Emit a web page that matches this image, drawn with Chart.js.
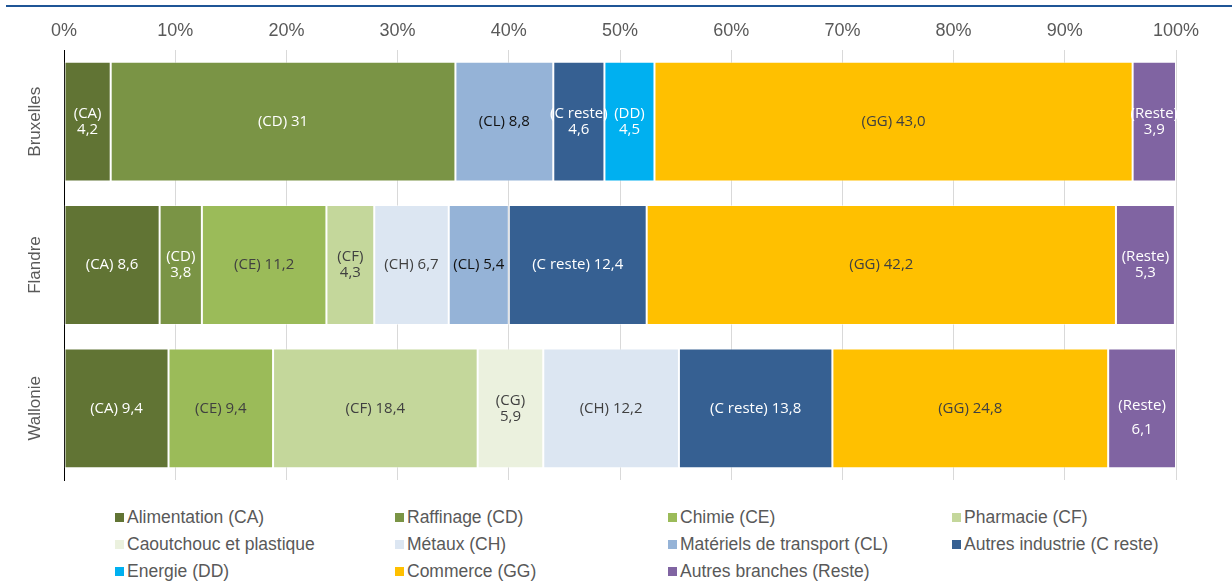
<!DOCTYPE html>
<html><head><meta charset="utf-8">
<script src="https://cdn.jsdelivr.net/npm/chart.js@4.4.1/dist/chart.umd.min.js"></script>
<style>
html,body{margin:0;padding:0;background:#fff;}
#wrap{position:relative;width:1232px;height:586px;overflow:hidden;background:#fff;}
#c{position:absolute;left:0;top:0;width:1232px;height:490px;}
#topline{position:absolute;left:6px;right:0;top:5px;height:2px;background:#1f5596;}
#legend{position:absolute;left:0;top:490px;width:1232px;height:96px;font-family:"Liberation Sans",Arial,sans-serif;font-size:17.5px;color:#595959;}
.item{position:absolute;display:flex;align-items:center;white-space:nowrap;height:20px;}
.box{width:9px;height:9px;margin-right:3px;flex:none;}
</style></head><body>
<div id="wrap"><canvas id="c" width="1232" height="490"></canvas><div id="topline"></div><div id="legend"></div></div>
<script>
// ---- data ----
const regions = ['Bruxelles', 'Flandre', 'Wallonie'];
const seriesNames = ['Alimentation (CA)', 'Raffinage (CD)', 'Chimie (CE)', 'Pharmacie (CF)',
  'Caoutchouc et plastique', 'Métaux (CH)', 'Matériels de transport (CL)', 'Autres industrie (C reste)',
  'Energie (DD)', 'Commerce (GG)', 'Autres branches (Reste)'];
const seriesCodes = ['CA', 'CD', 'CE', 'CF', 'CG', 'CH', 'CL', 'C reste', 'DD', 'GG', 'Reste'];
const caValues     = [4.2, 8.6, 9.4];
const cdValues     = [31, 3.8, 0];
const ceValues     = [0, 11.2, 9.4];
const cfValues     = [0, 4.3, 18.4];
const cgValues     = [0, 0, 5.9];
const chValues     = [0, 6.7, 12.2];
const clValues     = [8.8, 5.4, 0];
const cResteValues = [4.6, 12.4, 13.8];
const ddValues     = [4.5, 0, 0];
const ggValues     = [43.0, 42.2, 24.8];
const resteValues  = [3.9, 5.3, 6.1];
const tickLabels = ['0%', '10%', '20%', '30%', '40%', '50%', '60%', '70%', '80%', '90%', '100%'];

// ---- styling ----
const seriesColors = ['#617434', '#7a9445', '#9bbb59', '#c4d79b', '#ebf1de', '#dce6f2', '#95b3d7', '#366092', '#00b0f0', '#ffc000', '#8064a2'];
const labelColors  = ['#ffffff', '#ffffff', '#404040', '#404040', '#404040', '#404040', '#111111', '#ffffff', '#ffffff', '#404040', '#ffffff'];
const twoLine = new Set(['Bruxelles|CA', 'Bruxelles|C reste', 'Bruxelles|DD', 'Bruxelles|Reste',
  'Flandre|CD', 'Flandre|CF', 'Flandre|Reste', 'Wallonie|CG', 'Wallonie|Reste']);
const wideGap = new Set(['Wallonie|Reste']);
const textOverride = {'Bruxelles|CD': '31'};

const allValues = [caValues, cdValues, ceValues, cfValues, cgValues, chValues, clValues, cResteValues, ddValues, ggValues, resteValues];

const datasets = allValues.map((vals, i) => ({
  label: seriesNames[i],
  data: vals,
  backgroundColor: seriesColors[i],
  borderColor: 'rgba(255,255,255,0.45)',
  borderWidth: 1,
  borderSkipped: false,
  barPercentage: 0.836,
  categoryPercentage: 1.0
}));

const labelPlugin = {
  id: 'segLabels',
  afterDatasetsDraw(chart) {
    const ctx = chart.ctx;
    ctx.save();
    ctx.font = '15px "Open Sans", sans-serif';
    ctx.textAlign = 'center';
    ctx.textBaseline = 'middle';
    chart.data.datasets.forEach((ds, di) => {
      const meta = chart.getDatasetMeta(di);
      meta.data.forEach((el, idx) => {
        const v = ds.data[idx];
        if (!v) return;
        const key = regions[idx] + '|' + seriesCodes[di];
        const valTxt = textOverride[key] || v.toFixed(1).replace('.', ',');
        const code = '(' + seriesCodes[di] + ')';
        const cx = (el.x + el.base) / 2;
        const cy = el.y;
        ctx.fillStyle = labelColors[di];
        if (twoLine.has(key)) {
          if (wideGap.has(key)) {
            ctx.fillText(code, cx, cy - 3);
            ctx.fillText(valTxt, cx, cy + 21);
          } else {
            ctx.fillText(code, cx, cy - 8);
            ctx.fillText(valTxt, cx, cy + 8);
          }
        } else {
          ctx.fillText(code + ' ' + valTxt, cx, cy);
        }
      });
    });
    ctx.restore();
  }
};

const yLabelPlugin = {
  id: 'yLabels',
  afterDraw(chart) {
    const ctx = chart.ctx;
    const ys = chart.scales.y;
    ctx.save();
    ctx.font = '17px "Liberation Sans", Arial, sans-serif';
    ctx.fillStyle = '#595959';
    ctx.textAlign = 'center';
    ctx.textBaseline = 'middle';
    regions.forEach((r, i) => {
      const y = ys.getPixelForValue(i);
      ctx.save();
      ctx.translate(35, y);
      ctx.rotate(-Math.PI / 2);
      ctx.fillText(r, 0, 0);
      ctx.restore();
    });
    ctx.restore();
  }
};

new Chart(document.getElementById('c'), {
  type: 'bar',
  data: { labels: regions, datasets },
  options: {
    indexAxis: 'y',
    responsive: false,
    maintainAspectRatio: false,
    animation: false,
    devicePixelRatio: 1,
    layout: { padding: { left: 0, right: 56, top: 0, bottom: 10 } },
    plugins: { legend: { display: false }, tooltip: { enabled: false } },
    scales: {
      x: {
        position: 'top',
        stacked: true,
        min: 0, max: 100,
        ticks: {
          stepSize: 10,
          padding: 8,
          maxRotation: 0, minRotation: 0,
          color: '#595959',
          font: { family: '"Liberation Sans", Arial, sans-serif', size: 18 },
          callback: (v, i) => tickLabels[i]
        },
        grid: { color: '#d9d9d9', drawTicks: false, lineWidth: 1 },
        border: { display: false },
        afterFit(s) { s.height = 50; }
      },
      y: {
        stacked: true,
        ticks: { display: false },
        grid: { display: false },
        border: { display: true, color: '#000000', width: 1 },
        afterFit(s) { s.width = 64; }
      }
    }
  },
  plugins: [labelPlugin, yLabelPlugin]
});

// HTML legend built from series
const legendLefts = [115, 395, 668, 952];
const legendRowCenters = [27, 54, 81];
const leg = document.getElementById('legend');
seriesNames.forEach((name, i) => {
  const d = document.createElement('div');
  d.className = 'item';
  d.style.left = legendLefts[i % 4] + 'px';
  d.style.top = (legendRowCenters[Math.floor(i / 4)] - 10) + 'px';
  const b = document.createElement('span');
  b.className = 'box';
  b.style.background = seriesColors[i];
  const t = document.createElement('span');
  t.textContent = name;
  d.appendChild(b); d.appendChild(t);
  leg.appendChild(d);
});
</script>
</body></html>
